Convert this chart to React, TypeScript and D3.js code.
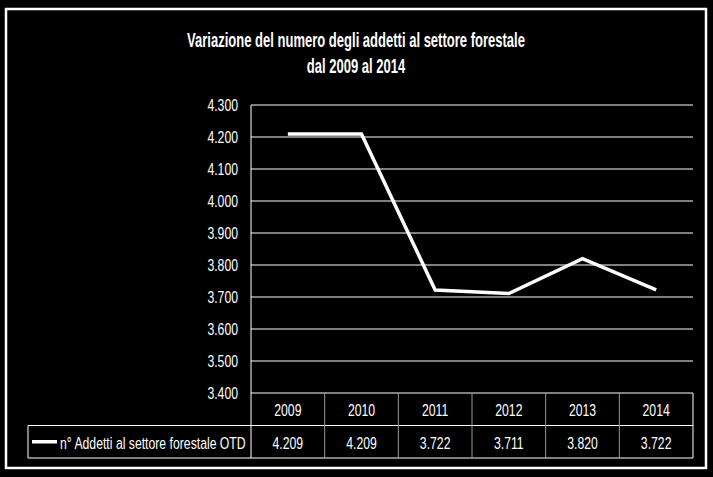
import * as d3 from "d3";
import { useMemo } from "react";

const years = ["2009", "2010", "2011", "2012", "2013", "2014"];
const addetti = [4209, 4209, 3722, 3711, 3820, 3722];
const yTicks = [3400, 3500, 3600, 3700, 3800, 3900, 4000, 4100, 4200, 4300];
const seriesName = "n° Addetti al settore forestale OTD";
const titleLines = [
  "Variazione del numero degli addetti al settore forestale",
  "dal 2009 al 2014",
];

const width = 713;
const height = 477;
const font = "'Liberation Sans', Arial, sans-serif";
// the original font is a narrow one: squeeze Liberation Sans horizontally
const narrow = 0.72;
const titleNarrow = 0.62;

const itLocale = d3.formatLocale({
  decimal: ",",
  thousands: ".",
  grouping: [3],
  currency: ["€", ""],
});
const fmt = itLocale.format(",d");

const Label = ({ x, y, anchor = "start", size = 17, sx = narrow, dy = "0.36em", weight = "normal", children }) => (
  <text
    transform={`translate(${x},${y}) scale(${sx},1)`}
    dy={dy}
    fill="#fff"
    fontSize={size}
    fontWeight={weight}
    textAnchor={anchor}
  >
    {children}
  </text>
);

export default function App() {
  const plot = { left: 251, right: 693, top: 105, bottom: 393 };
  const rowH = 32.5;
  const legendLeft = 28;

  const x = useMemo(
    () => d3.scaleBand().domain(years).range([plot.left, plot.right]),
    []
  );
  const y = useMemo(
    () => d3.scaleLinear().domain([3400, 4300]).range([plot.bottom, plot.top]),
    []
  );

  const line = d3
    .line<number>()
    .x((d, i) => x(years[i])! + x.bandwidth() / 2)
    .y((d) => y(d));

  const headerBottom = plot.bottom + rowH;
  const tableBottom = headerBottom + rowH;

  return (
    <svg
      width={width}
      height={height}
      style={{ position: "fixed", left: 0, top: 0, background: "#000" }}
      fontFamily={font}
    >
      <rect width={width} height={height} fill="#000" />
      <rect
        x={6}
        y={9}
        width={700}
        height={459}
        fill="none"
        stroke="#fff"
        strokeWidth={2.5}
      />

      {/* titolo */}
      <Label x={356} y={47} dy="0" anchor="middle" size={21} sx={titleNarrow} weight="bold">
        {titleLines[0]}
      </Label>
      <Label x={356} y={73} dy="0" anchor="middle" size={21} sx={titleNarrow} weight="bold">
        {titleLines[1]}
      </Label>

      {/* griglia e asse y */}
      {yTicks.map((t) => (
        <g key={t}>
          <line
            x1={plot.left}
            x2={plot.right}
            y1={y(t)}
            y2={y(t)}
            stroke="#fff"
            strokeWidth={1}
          />
          <Label x={238} y={y(t)} anchor="end">
            {fmt(t)}
          </Label>
        </g>
      ))}
      <line
        x1={plot.left}
        x2={plot.left}
        y1={plot.top}
        y2={tableBottom}
        stroke="#fff"
        strokeWidth={1}
      />

      {/* serie */}
      <path
        d={line(addetti)!}
        fill="none"
        stroke="#fff"
        strokeWidth={3.5}
        strokeLinejoin="miter"
      />

      {/* tabella dati */}
      <line x1={plot.right} x2={plot.right} y1={plot.bottom} y2={tableBottom} stroke="#fff" />
      <line x1={legendLeft} x2={plot.right} y1={headerBottom} y2={headerBottom} stroke="#fff" />
      <line x1={legendLeft} x2={plot.right} y1={tableBottom} y2={tableBottom} stroke="#fff" />
      <line x1={legendLeft} x2={legendLeft} y1={headerBottom} y2={tableBottom} stroke="#fff" />
      {years.slice(1).map((yr) => (
        <line
          key={yr}
          x1={x(yr)}
          x2={x(yr)}
          y1={plot.bottom}
          y2={tableBottom}
          stroke="#999"
        />
      ))}
      {years.map((yr, i) => (
        <g key={yr}>
          <Label x={x(yr)! + x.bandwidth() / 2} y={plot.bottom + rowH / 2 + 1} anchor="middle">
            {yr}
          </Label>
          <Label x={x(yr)! + x.bandwidth() / 2} y={headerBottom + rowH / 2 + 1} anchor="middle">
            {fmt(addetti[i])}
          </Label>
        </g>
      ))}

      {/* legenda */}
      <line
        x1={32}
        x2={57}
        y1={headerBottom + rowH / 2}
        y2={headerBottom + rowH / 2}
        stroke="#fff"
        strokeWidth={3.5}
      />
      <Label x={60} y={headerBottom + rowH / 2 + 1}>
        {seriesName}
      </Label>
    </svg>
  );
}
